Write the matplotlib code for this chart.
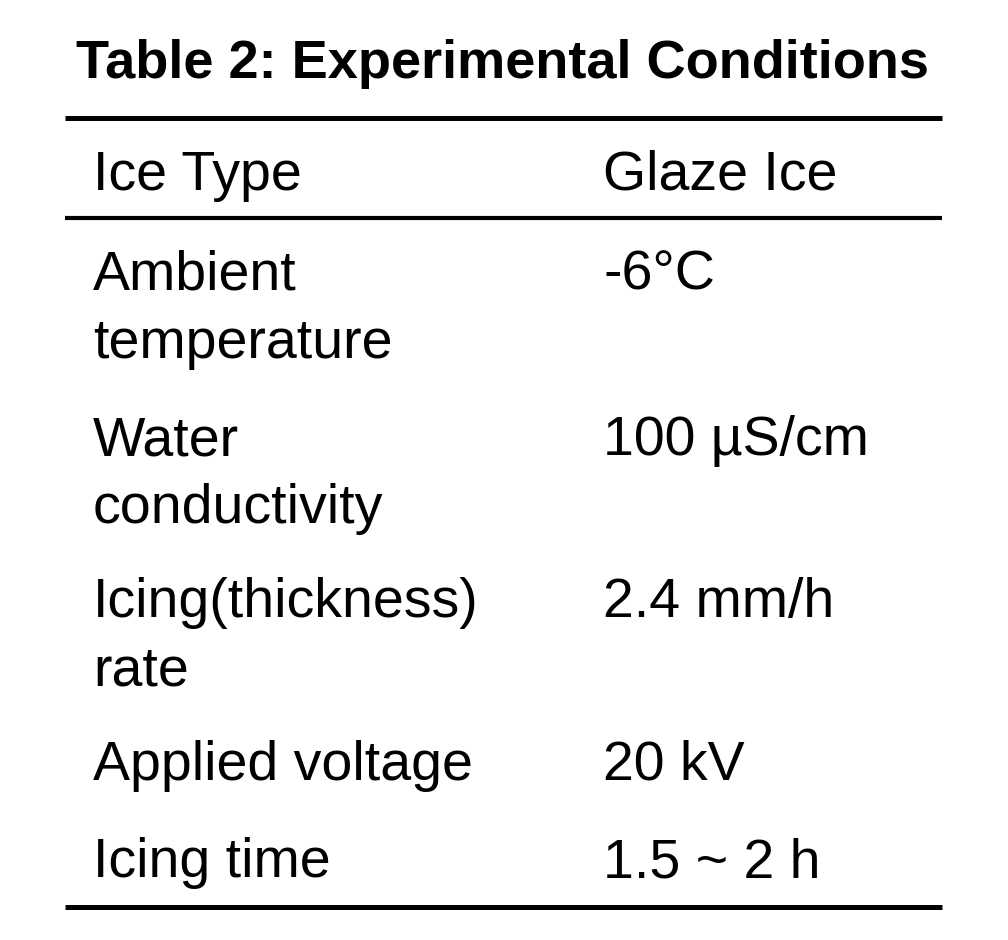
import matplotlib
matplotlib.use("Agg")
import matplotlib.pyplot as plt

title = "Table 2: Experimental Conditions"
header = ["Ice Type", "Glaze Ice"]
params = ["Ambient\ntemperature", "Water\nconductivity", "Icing(thickness)\nrate", "Applied voltage", "Icing time"]
values = ["-6°C", "100 µS/cm", "2.4 mm/h", "20 kV", "1.5 ~ 2 h"]

fig = plt.figure(figsize=(10.08, 9.4), dpi=100)
ax = fig.add_axes([0, 0, 1, 1])
ax.set_xlim(0, 1008); ax.set_ylim(940, 0); ax.axis("off")
F = ["Liberation Sans", "DejaVu Sans"]

ax.text(502, 78, title, ha="center", va="baseline", fontsize=39, fontweight="bold", family=F)
for y, lw in [(118, 3.6), (218, 3.0), (907, 3.6)]:
    ax.plot([65, 942], [y, y], color="black", lw=lw, solid_capstyle="butt")

fs = 40
ax.text(93, 190, header[0], fontsize=fs, va="baseline", family=F)
ax.text(603, 190, header[1], fontsize=fs, va="baseline", family=F)
row_base = [290, 455, 617, 780, 877]
lh = 68
for b, p, v in zip(row_base, params, values):
    for i, line in enumerate(p.split("\n")):
        ax.text(93, b + i * lh, line, fontsize=fs, va="baseline", family=F)
    ax.text(603, b, v, fontsize=fs, va="baseline", family=F)

fig.savefig("out.png", dpi=100)
